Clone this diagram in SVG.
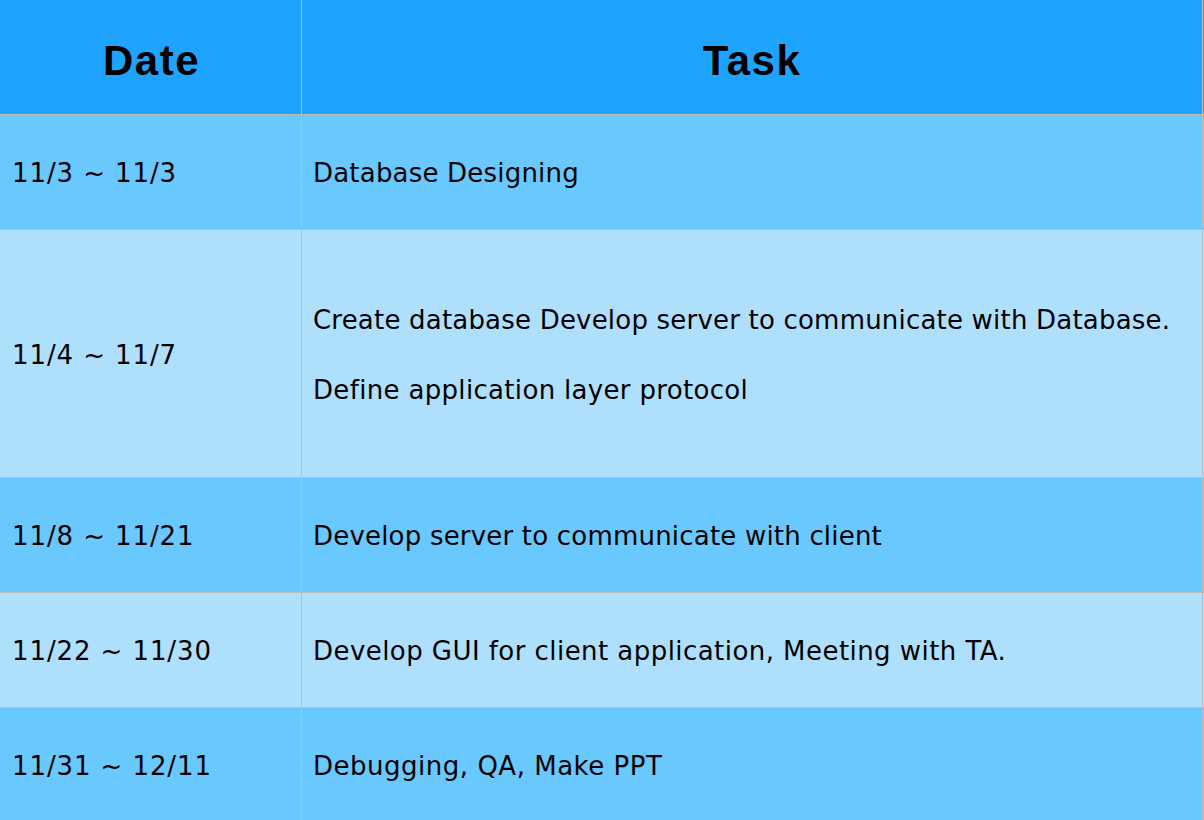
<svg xmlns="http://www.w3.org/2000/svg" width="1204" height="820" viewBox="0 0 1204 820">
<style>
.hdr{fill:#1ea4fe}
.dark{fill:#69c8fd}
.light{fill:#aee0fd}
.grid{stroke:#bdbdbd;stroke-width:1;fill:none}
.h{font-family:"Liberation Sans",Arial,sans-serif;font-weight:bold;font-size:42px;fill:#000;text-anchor:middle;letter-spacing:1.5px}
.t{font-family:"DejaVu Sans","Noto Sans",sans-serif;font-size:26px;fill:#000;letter-spacing:0.2px}
.d{letter-spacing:0.9px}
</style>
<rect width="1204" height="820" fill="#ffffff"/>
<g id="header">
<rect class="hdr" x="0" y="0" width="1204" height="114"/>
<text class="h" x="151.5" y="75">Date</text>
<text class="h" x="752" y="75">Task</text>
</g>
<g id="row1">
<rect class="dark" x="0" y="114" width="1204" height="115"/>
<text class="t d" x="12" y="182">11/3 ~ 11/3</text>
<text class="t" x="313" y="182">Database Designing</text>
</g>
<g id="row2">
<rect class="light" x="0" y="229" width="1204" height="248"/>
<text class="t d" x="12" y="364">11/4 ~ 11/7</text>
<text class="t" x="313" y="329">Create database Develop server to communicate with Database.</text>
<text class="t" x="313" y="399" textLength="435" lengthAdjust="spacing">Define application layer protocol</text>
</g>
<g id="row3">
<rect class="dark" x="0" y="477" width="1204" height="115"/>
<text class="t d" x="12" y="545">11/8 ~ 11/21</text>
<text class="t" x="313" y="545">Develop server to communicate with client</text>
</g>
<g id="row4">
<rect class="light" x="0" y="592" width="1204" height="115"/>
<text class="t d" x="12" y="660">11/22 ~ 11/30</text>
<text class="t" x="313" y="660" textLength="693" lengthAdjust="spacing">Develop GUI for client application, Meeting with TA.</text>
</g>
<g id="row5">
<rect class="dark" x="0" y="707" width="1204" height="113"/>
<text class="t d" x="12" y="775">11/31 ~ 12/11</text>
<text class="t" x="313" y="775" textLength="349" lengthAdjust="spacing">Debugging, QA, Make PPT</text>
</g>
<g id="gridlines">
<path class="grid" d="M0 114.5H1204M0 229.5H1204M0 477.5H1204M0 592.5H1204M0 707.5H1204M301.5 0V820M1202.5 0V820"/>
</g>
</svg>
